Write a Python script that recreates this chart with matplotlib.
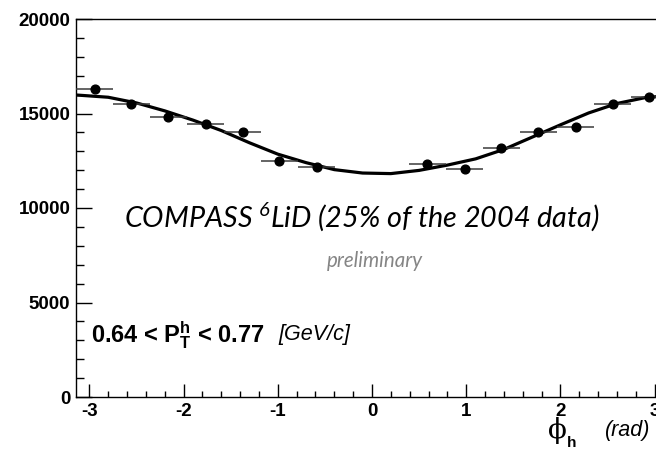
import numpy as np
import matplotlib
matplotlib.use("Agg")
import matplotlib.pyplot as plt
from matplotlib.ticker import MultipleLocator

# measured points (phi_h bin centres, counts)
phi = [-2.945, -2.553, -2.160, -1.767, -1.374, -0.982, -0.589,
       0.589, 0.982, 1.374, 1.767, 2.160, 2.553, 2.945]
counts = [16300, 15500, 14800, 14430, 14000, 12500, 12150,
          12330, 12080, 13180, 14040, 14290, 15520, 15860]
phi_halfwidth = 0.196

# fit curve
fit_phi = [-3.1416, -2.8, -2.5, -2.2, -1.9, -1.6, -1.3, -1.0, -0.7, -0.4,
           -0.1, 0.2, 0.5, 0.8, 1.1, 1.4, 1.7, 2.0, 2.3, 2.6, 2.9, 3.1416]
fit_val = [15980, 15860, 15560, 15140, 14650, 14100, 13450, 12850, 12400,
           12030, 11850, 11820, 11990, 12270, 12600, 13100, 13750, 14400,
           15030, 15530, 15840, 15940]

y_ticks = [0, 5000, 10000, 15000, 20000]
x_ticks = [-3, -2, -1, 0, 1, 2, 3]

W, H = 656, 454


def fx(px):
    return px / W


def fy(py):
    return 1 - py / H


def main():
    plt.rcParams["axes.unicode_minus"] = False
    plt.rcParams["mathtext.fontset"] = "custom"
    plt.rcParams["mathtext.bf"] = "Liberation Sans:bold"
    plt.rcParams["mathtext.it"] = "Lato:italic"
    plt.rcParams["mathtext.rm"] = "Lato:italic"

    fig = plt.figure(figsize=(W / 100, H / 100), dpi=100)
    # right edge of the frame runs past the picture, as in the original
    ax = fig.add_axes([fx(76), fy(397), (668 - 76) / W, (397 - 19) / H])

    ax.plot(fit_phi, fit_val, color="black", lw=2.3, zorder=2)
    ax.errorbar(phi, counts, xerr=phi_halfwidth, fmt="none",
                ecolor="#3a3a3a", elinewidth=1.1, capsize=0, zorder=3)
    ax.plot(phi, counts, "o", color="black", ms=6.3, zorder=4)

    ax.set_xlim(-np.pi, np.pi)
    ax.set_ylim(0, 20000)
    ax.set_xticks(x_ticks)
    ax.set_yticks(y_ticks)
    ax.xaxis.set_minor_locator(MultipleLocator(0.2))
    ax.yaxis.set_minor_locator(MultipleLocator(1000))

    ax.tick_params(which="both", direction="in", top=False, right=False,
                   width=1, color="black")
    ax.tick_params(axis="y", which="major", length=11.5, pad=4)
    ax.tick_params(axis="y", which="minor", length=6)
    ax.tick_params(axis="x", which="major", length=9.5, pad=4.5)
    ax.tick_params(axis="x", which="minor", length=4.5)
    for lab in ax.get_xticklabels() + ax.get_yticklabels():
        lab.set_family("Liberation Sans")
        lab.set_weight("bold")
        lab.set_fontsize(13.5)
    for s in ax.spines.values():
        s.set_linewidth(1)

    fig.text(fx(362), fy(227), r"COMPASS $^{\mathit{6}}$LiD (25% of the 2004 data)",
             ha="center", va="baseline", family="Lato", style="italic",
             fontsize=20.7)
    fig.text(fx(375), fy(267), "preliminary", ha="center", va="baseline",
             family="Lato", style="italic", fontsize=14.8, color="#858585")

    fig.text(fx(91), fy(343), r"0.64 < $\mathbf{P}_{\mathbf{T}}^{\mathbf{h}}$ < 0.77",
             ha="left", va="baseline", family="Liberation Sans",
             weight="bold", fontsize=17)
    fig.text(fx(278), fy(340), "[GeV/c]", ha="left", va="baseline",
             family="Liberation Sans", style="italic", fontsize=15.5)

    fig.text(fx(557), fy(438), "\u03d5", ha="center", va="baseline",
             family="DejaVu Serif", fontsize=20)
    fig.text(fx(567), fy(447), "h", ha="left", va="baseline",
             family="Liberation Sans", weight="bold", fontsize=11)
    fig.text(fx(605), fy(436), "(rad)", ha="left", va="baseline",
             family="Liberation Sans", style="italic", fontsize=15.5)

    fig.savefig("out.png", dpi=100)


if __name__ == "__main__":
    main()
